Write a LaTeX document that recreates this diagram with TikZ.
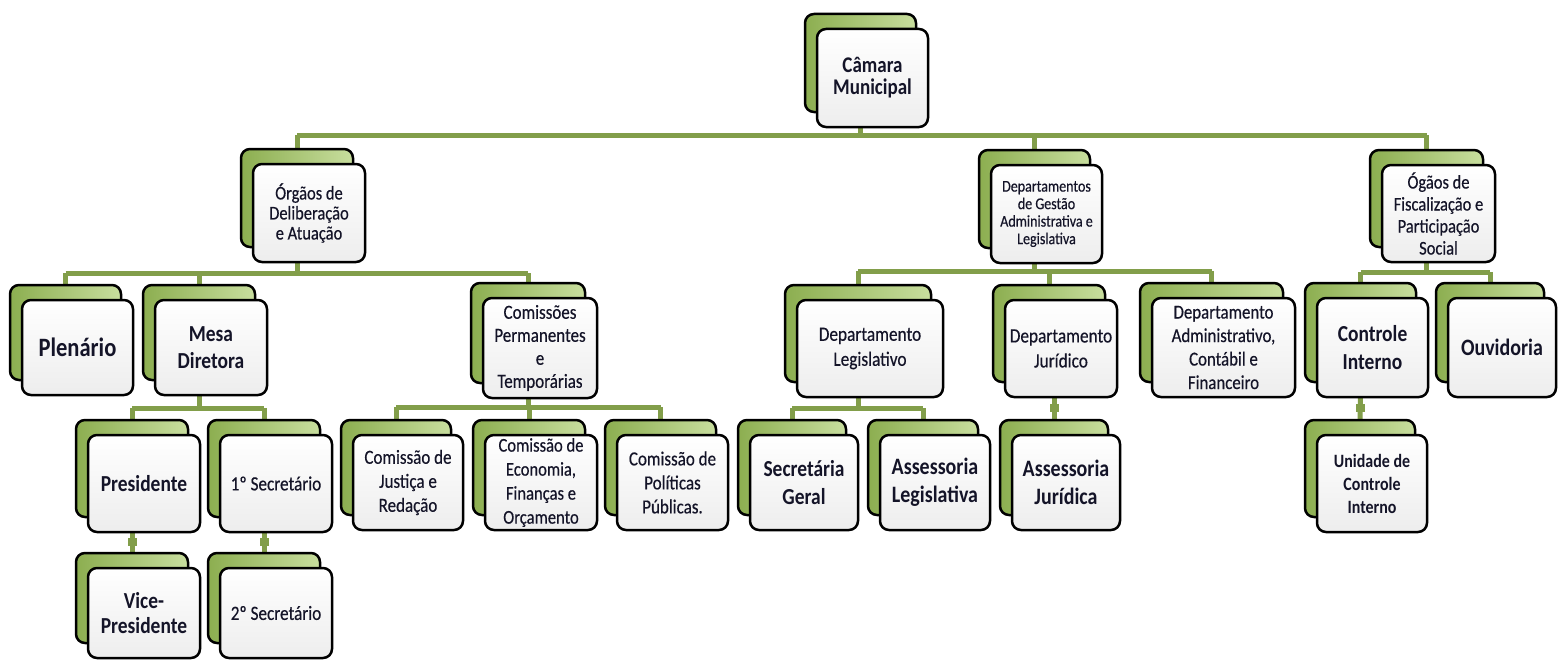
\documentclass[tikz,border=0pt]{standalone}
\usepackage{fontspec}
\setmainfont[FakeStretch=0.85, UprightFeatures={FakeBold=0.4}]{Carlito}
\pgfdeclarelayer{background}
\pgfsetlayers{background,main}
\definecolor{conncol}{RGB}{130,158,74}
\definecolor{gdark}{RGB}{140,174,80}
\definecolor{glight}{RGB}{200,222,158}
\definecolor{txt}{RGB}{20,20,40}
\newcommand\fsz[2]{\fontsize{#1}{#2}\selectfont}
\tikzset{
  backbox/.style={draw=black, line width=2.5pt, rounded corners=9pt,
    left color=gdark, right color=glight, inner sep=0pt},
  frontbox/.style={draw=black, line width=2.5pt, rounded corners=9pt,
    top color=white, bottom color=black!7, inner sep=2pt, align=center, text=txt},
  conn/.style={draw=conncol, line width=5pt},
  nub/.style={draw=conncol, line width=9pt},
}
\newcommand\obox[7]{%
  \node[backbox, minimum width=#4pt, minimum height=#5pt] (#1b) at ({#2-12},{#3-15}) {};
  \node[frontbox, minimum width=#4pt, minimum height=#5pt, font=#6] (#1) at (#2,#3) {#7};}
\begin{document}
\begin{tikzpicture}[x=1pt,y=-1pt]
\begin{pgfonlayer}{background}
\fill[white] (0,0) rectangle (1558,661);
\end{pgfonlayer}
\useasboundingbox (0,0) rectangle (1558,661);
% level 0
\obox{cam}{872.5}{78}{111}{98}{\fsz{22.4}{22}\bfseries}{Câmara\\Municipal}
% level 1
\obox{org}{309}{213}{112}{98}{\fsz{19.4}{20}}{Órgãos de\\Deliberação\\e Atuação}
\obox{dep}{1046.5}{214}{111}{98}{\fsz{16.5}{17.5}}{Departamentos\\de Gestão\\Administrativa e\\Legislativa}
\obox{fis}{1438.5}{213.5}{113}{97}{\fsz{19.4}{22}}{Ógãos de\\Fiscalização e\\Participação\\Social}
% level 2
\obox{ple}{77.5}{347.5}{111}{95}{\fsz{26.5}{26}\bfseries}{Plenário}
\obox{mes}{211}{347.5}{112}{95}{\fsz{22.9}{27}\bfseries}{Mesa\\Diretora}
\obox{com}{540}{348}{114}{100}{\fsz{20}{23}}{Comissões\\Permanentes\\e\\Temporárias}
\obox{dl}{870}{348.5}{146}{97}{\fsz{20.3}{25}}{Departamento\\Legislativo}
\obox{dj}{1061}{348.5}{112}{97}{\fsz{20.3}{25}}{Departamento\\Jurídico}
\obox{da}{1223.5}{347.5}{143}{99}{\fsz{19.8}{23.5}}{Departamento\\Administrativo,\\Contábil e\\Financeiro}
\obox{ci}{1372.5}{347.5}{111}{99}{\fsz{22.9}{28}\bfseries}{Controle\\Interno}
\obox{ou}{1502}{347.5}{108}{99}{\fsz{23.5}{24}\bfseries}{Ouvidoria}
% level 3
\obox{pres}{144}{483.5}{112}{97}{\fsz{22.9}{24}\bfseries}{Presidente}
\obox{sec}{276}{483.5}{112}{97}{\fsz{20.2}{22}}{1º Secretário}
\obox{cj}{408}{482.5}{110}{95}{\fsz{20}{24}}{Comissão de\\Justiça e\\Redação}
\obox{ce}{541}{482.5}{112}{95}{\fsz{19.5}{24}}{Comissão de\\Economia,\\Finanças e\\Orçamento}
\obox{cp}{672.5}{482.5}{111}{95}{\fsz{20}{24}}{Comissão de\\Políticas\\Públicas.}
\obox{sg}{804}{482.5}{108}{95}{\fsz{22.9}{28}\bfseries}{Secretária\\Geral}
\obox{al}{935}{482.5}{110}{95}{\fsz{23.5}{28}\bfseries}{Assessoria\\Legislativa}
\obox{aj}{1066}{482.5}{108}{95}{\fsz{23.5}{28}\bfseries}{Assessoria\\Jurídica}
\obox{uci}{1372}{483.5}{110}{97}{\fsz{18.8}{23}\bfseries}{Unidade de\\Controle\\Interno}
% level 4
\obox{vice}{144}{613}{112}{90}{\fsz{22.9}{25}\bfseries}{Vice-\\Presidente}
\obox{sec2}{276}{613}{112}{90}{\fsz{20.2}{22}}{2º Secretário}
% connectors
\begin{pgfonlayer}{background}
% Camara
\draw[conn] (camb.center) -- (camb.center |- 0,135);
\draw[conn] (orgb.center |- 0,135) -- (fisb.center |- 0,135);
\foreach \c in {orgb,depb,fisb} \draw[conn] (\c.center |- 0,135) -- (\c.center);
% Orgaos
\draw[conn] (orgb.center) -- (orgb.center |- 0,273);
\draw[conn] (pleb.center |- 0,273) -- (comb.center |- 0,273);
\foreach \c in {pleb,mesb,comb} \draw[conn] (\c.center |- 0,273) -- (\c.center);
% Departamentos
\draw[conn] (depb.center) -- (depb.center |- 0,271);
\draw[conn] (dlb.center |- 0,271) -- (dab.center |- 0,271);
\foreach \c in {dlb,djb,dab} \draw[conn] (\c.center |- 0,271) -- (\c.center);
% Fiscalizacao
\draw[conn] (fisb.center) -- (fisb.center |- 0,272);
\draw[conn] (cib.center |- 0,272) -- (oub.center |- 0,272);
\foreach \c in {cib,oub} \draw[conn] (\c.center |- 0,272) -- (\c.center);
% Mesa
\draw[conn] (mesb.center) -- (mesb.center |- 0,408);
\draw[conn] (presb.center |- 0,408) -- (secb.center |- 0,408);
\foreach \c in {presb,secb} \draw[conn] (\c.center |- 0,408) -- (\c.center);
% Comissoes
\draw[conn] (comb.center) -- (comb.center |- 0,407);
\draw[conn] (cjb.center |- 0,407) -- (cpb.center |- 0,407);
\foreach \c in {cjb,ceb,cpb} \draw[conn] (\c.center |- 0,407) -- (\c.center);
% Dep Legislativo
\draw[conn] (dlb.center) -- (dlb.center |- 0,408);
\draw[conn] (sgb.center |- 0,408) -- (alb.center |- 0,408);
\foreach \c in {sgb,alb} \draw[conn] (\c.center |- 0,408) -- (\c.center);
% single children
\draw[conn] (djb.center) -- (ajb.center |- djb.center) -- (ajb.center);
\draw[conn] (cib.center) -- (ucib.center);
\draw[conn] (presb.center) -- (viceb.center);
\draw[conn] (secb.center) -- (sec2b.center);
\draw[nub] (ajb.center |- 0,404) -- (ajb.center |- 0,412);
\draw[nub] (ucib.center |- 0,404) -- (ucib.center |- 0,412);
\draw[nub] (viceb.center |- 0,538) -- (viceb.center |- 0,546);
\draw[nub] (sec2b.center |- 0,538) -- (sec2b.center |- 0,546);
\end{pgfonlayer}
\end{tikzpicture}
\end{document}
